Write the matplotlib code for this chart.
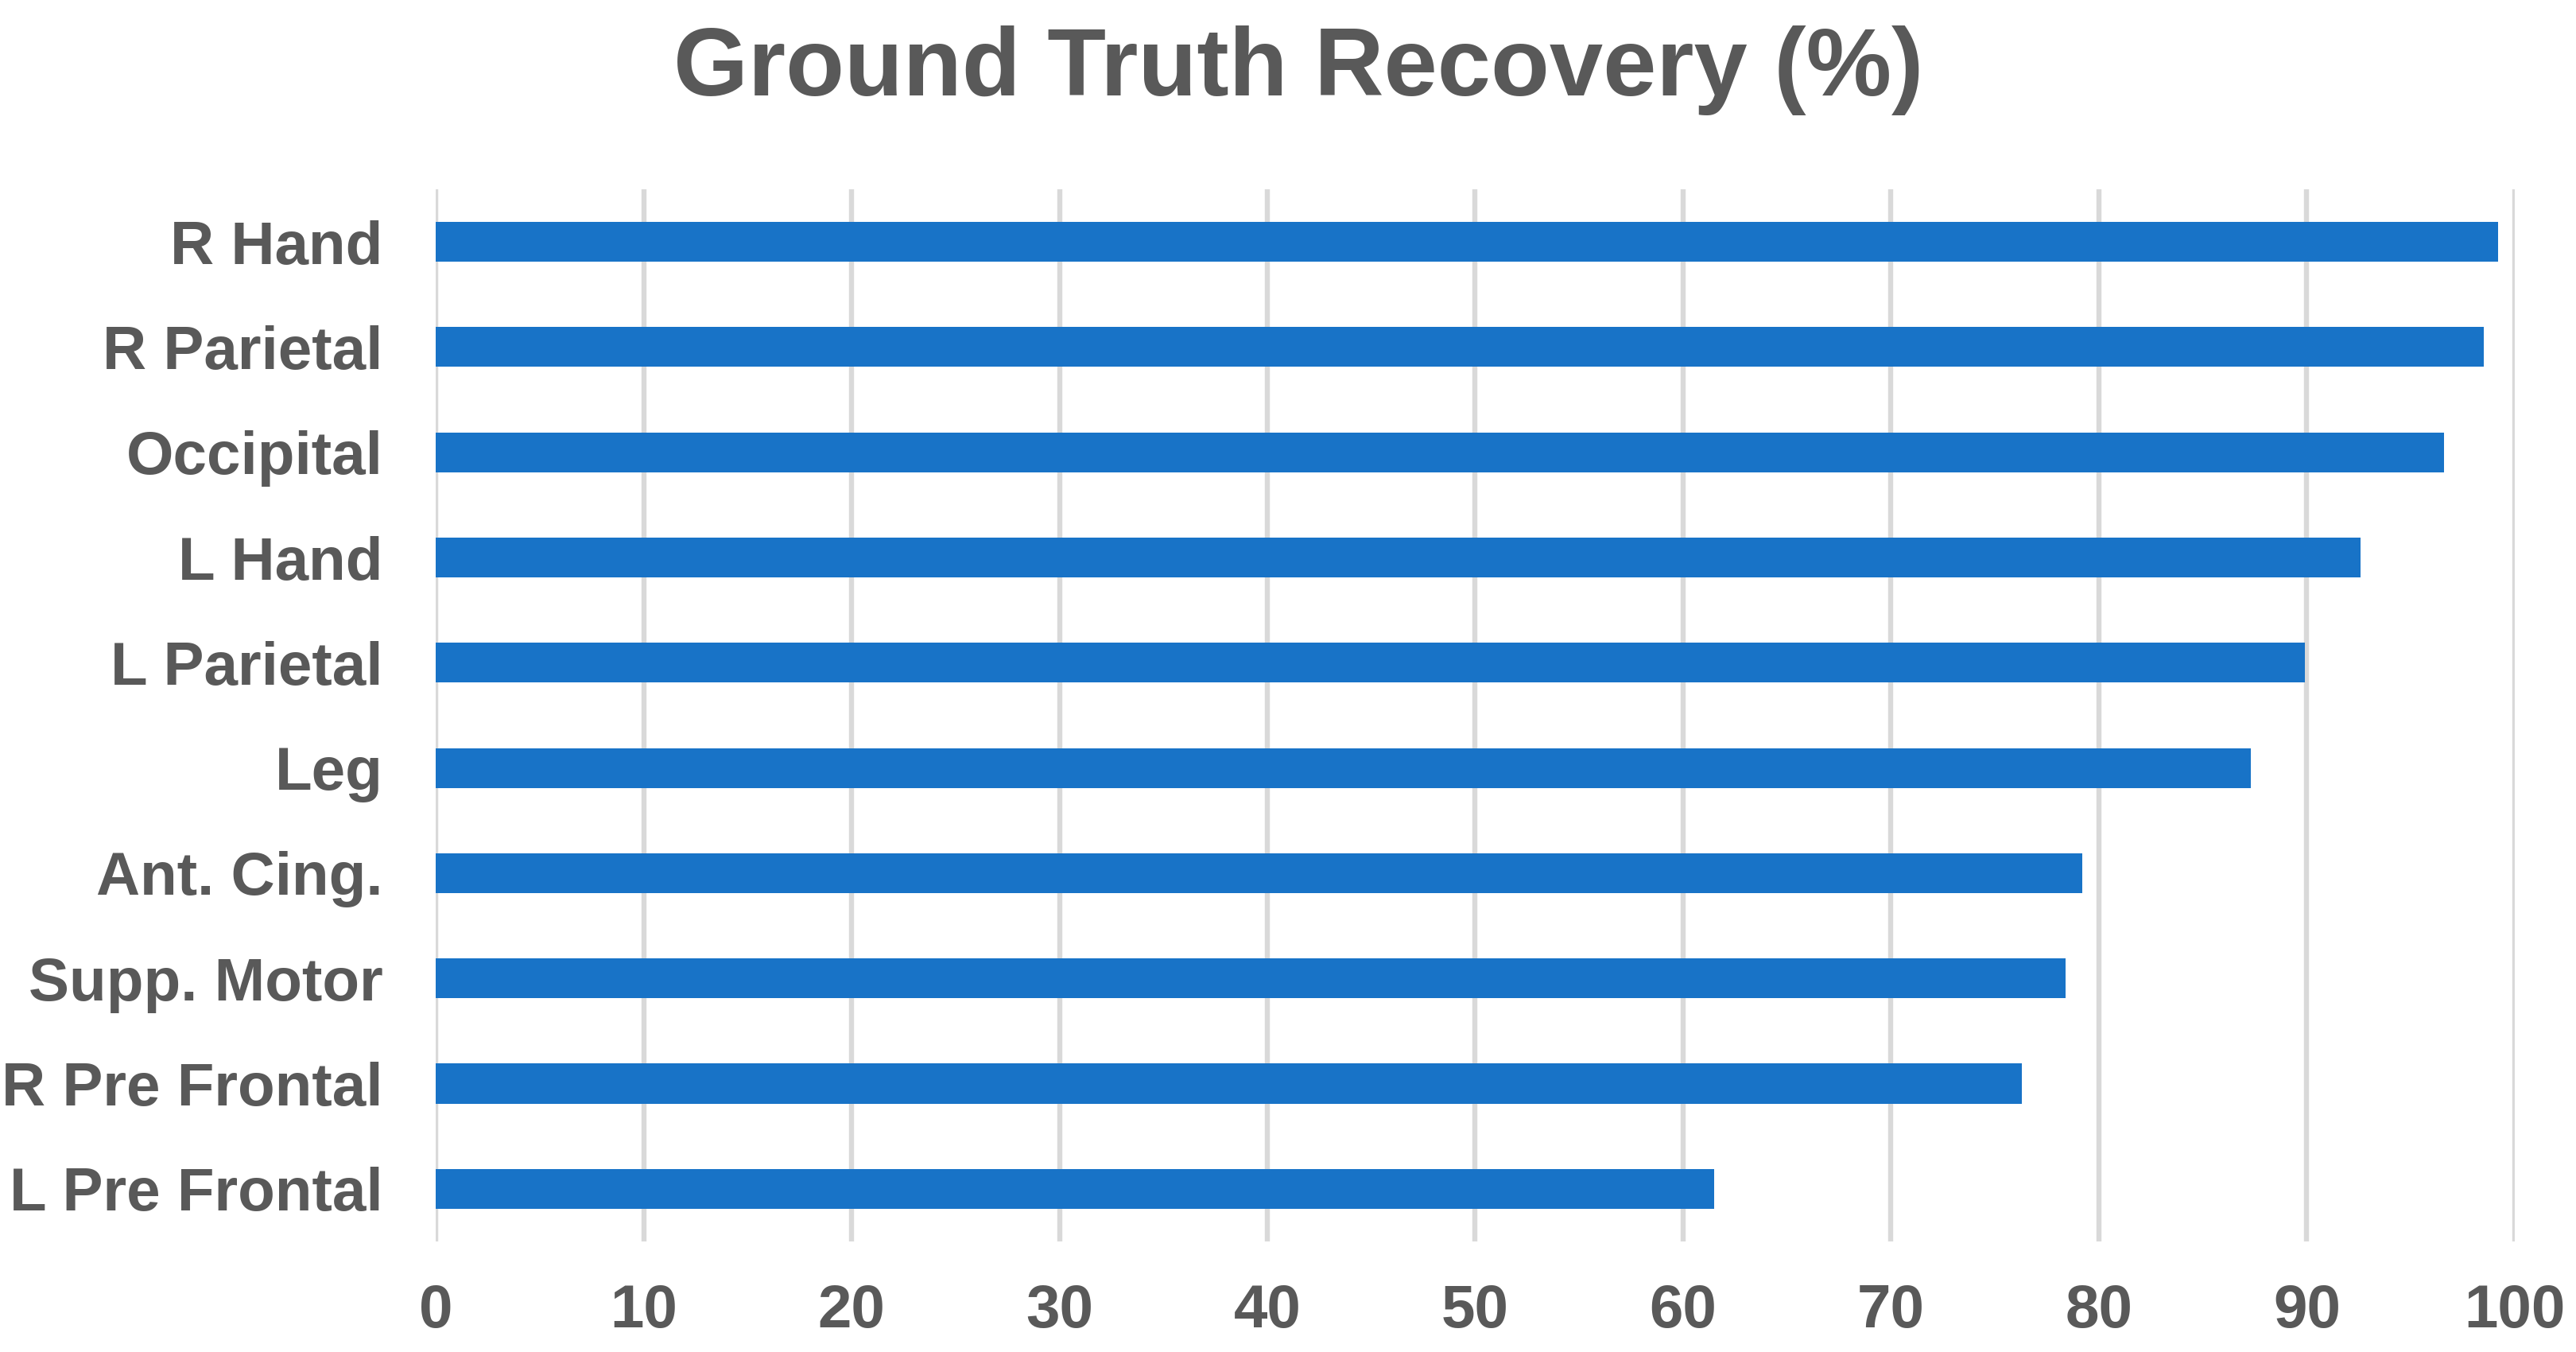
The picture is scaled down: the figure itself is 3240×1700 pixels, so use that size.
import matplotlib
matplotlib.use("Agg")
import matplotlib.pyplot as plt

categories = ["R Hand", "R Parietal", "Occipital", "L Hand", "L Parietal",
              "Leg", "Ant. Cing.", "Supp. Motor", "R Pre Frontal", "L Pre Frontal"]
values = [99.2, 98.5, 96.6, 92.6, 89.9, 87.3, 79.2, 78.4, 76.3, 61.5]
xticks = [0, 10, 20, 30, 40, 50, 60, 70, 80, 90, 100]
title = "Ground Truth Recovery (%)"

TEXT = "#595959"
BAR = "#1873c7"
GRID = "#d9d9d9"

fig = plt.figure(figsize=(32.41, 17), dpi=100)
ax = fig.add_axes([0.1691, 0.0818, 0.9759 - 0.1691, 0.86 - 0.0818])

ypos = list(range(len(categories)))[::-1]
ax.barh(ypos, values, height=0.378, color=BAR, zorder=3)

ax.set_xlim(0, 100)
ax.set_ylim(-0.5, len(categories) - 0.5)
ax.set_xticks(xticks)
ax.set_xticklabels([str(t) for t in xticks])
ax.set_yticks(ypos)
ax.set_yticklabels(categories)

for s in ax.spines.values():
    s.set_visible(False)
ax.grid(axis="x", color=GRID, linewidth=4.6, zorder=0)
ax.set_axisbelow(True)
ax.tick_params(axis="both", length=0, colors=TEXT, labelsize=55)
ax.tick_params(axis="x", pad=38)
ax.tick_params(axis="y", pad=48)
for lab in ax.get_xticklabels() + ax.get_yticklabels():
    lab.set_fontfamily(["Liberation Sans", "DejaVu Sans"])
    lab.set_fontweight("bold")
    lab.set_color(TEXT)

fig.text(0.504, 0.948, title, ha="center", va="center", fontsize=87,
         fontweight="bold", color=TEXT,
         family=["Liberation Sans", "DejaVu Sans"])

fig.savefig("out.png", dpi=100, facecolor="white")
